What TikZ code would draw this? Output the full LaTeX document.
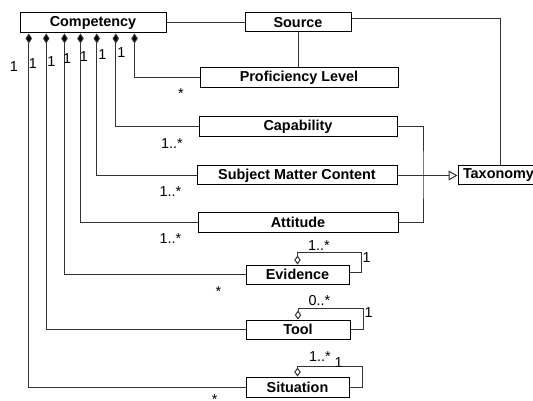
\documentclass[tikz,border=0pt]{standalone}
\usepackage{fontspec}
\setmainfont{Liberation Sans}
\usetikzlibrary{arrows.meta}
\begin{document}
\begin{tikzpicture}[x=1pt,y=-1pt,
  cls/.style={draw=black, line width=1pt, fill=white, inner sep=0pt,
    font=\fontsize{14.4}{16}\selectfont\bfseries},
  wire/.style={draw=black!80, line width=1pt},
  comp/.style={wire, {Diamond[length=10pt,width=6.5pt,fill=black]}-},
  agg/.style={wire, -{Diamond[open,length=9pt,width=6.5pt,fill=white]}},
  gen/.style={wire, -{Triangle[open,length=9pt,width=10pt,fill=white]}},
  mult/.style={inner sep=0pt, font=\fontsize{14.4}{16}\selectfont},
]
\useasboundingbox (0,0) rectangle (533,401);
\clip (0,0) rectangle (533,401);

% classes
\node[cls, minimum width=146pt, minimum height=20pt] (comp) at (93,23) {Competency};
\node[cls, minimum width=106pt, minimum height=19pt] (src)  at (298,22.5) {Source};
\node[cls, minimum width=198pt, minimum height=20pt] (prof) at (299,78) {Proficiency Level};
\node[cls, minimum width=198pt, minimum height=20pt] (cap)  at (298,127) {Capability};
\node[cls, minimum width=200pt, minimum height=19pt] (subj) at (297,175.5) {Subject Matter Content};
\node[cls, minimum width=200pt, minimum height=20pt] (att)  at (298,222) {Attitude};
\node[cls, minimum width=85pt, minimum height=19pt, text width=75pt, align=left] (tax) at (500.5,175.5) {Taxonomy};
\node[cls, minimum width=103pt, minimum height=19pt] (ev)   at (297.5,274.5) {Evidence};
\node[cls, minimum width=104pt, minimum height=19pt] (tool) at (298,329.5) {Tool};
\node[cls, minimum width=103pt, minimum height=20pt] (sit)  at (297.5,387) {Situation};

% composition ends under Competency
\coordinate (k1) at ([xshift=9.3pt]comp.south west);
\coordinate (k2) at ([xshift=26.7pt]comp.south west);
\coordinate (k3) at ([xshift=45pt]comp.south west);
\coordinate (k4) at ([xshift=61pt]comp.south west);
\coordinate (k5) at ([xshift=77.3pt]comp.south west);
\coordinate (k6) at ([xshift=96.3pt]comp.south west);
\coordinate (k7) at ([xshift=115pt]comp.south west);

\draw[comp] (k7) |- (prof.west);
\draw[comp] (k6) |- (cap.west);
\draw[comp] (k5) |- (subj.west);
\draw[comp] (k4) |- (att.west);
\draw[comp] (k3) |- (ev.west);
\draw[comp] (k2) |- (tool.west);
\draw[comp] (k1) |- (sit.west);

% plain associations
\draw[wire] (comp.east) -- (comp.east -| src.west);
\draw[wire] (src.south) -- (src.south |- prof.north);
\draw[wire] ([yshift=4pt]src.east) -| (tax.north);

% generalisation to Taxonomy
\coordinate (gx) at (423,175.5);
\draw[wire] (cap.east) -| (gx) |- (att.east);
\draw[gen] (subj.east) -- (tax.west);

% reflexive aggregations
\draw[agg] ([yshift=1.8pt]ev.east) -- ++(12,0) -- ++(0,-20.4) -| (ev.north);
\draw[agg] (tool.east) -- ++(12.7,0) -- ++(0,-21.2) -| (tool.north);
\draw[agg] (sit.east) -- ++(13,0) -- ++(0,-21) -| (sit.north);

% multiplicities at Competency
\node[mult, anchor=base] (m1) at (14,71.7) {1};
\node[mult, anchor=base] (m2) at (33,68.3) {1};
\node[mult, anchor=base] (m3) at (51.3,66.7) {1};
\node[mult, anchor=base] (m4) at (67.2,63.3) {1};
\node[mult, anchor=base] (m5) at (84,61.7) {1};
\node[mult, anchor=base] (m6) at (102.5,59.3) {1};
\node[mult, anchor=base] (m7) at (121.3,57.3) {1};

% multiplicities at the parts
\node[mult, anchor=base] (s1) at (181,98.5) {*};
\node[mult, anchor=base west] (s2) at (161,148.3) {1..*};
\node[mult, anchor=base west] (s3) at (159.3,196.7) {1..*};
\node[mult, anchor=base west] (s4) at (159.3,243.3) {1..*};
\node[mult, anchor=base] (s5) at (218.3,296.5) {*};
\node[mult, anchor=base] (s6) at (214.7,404) {*};

% multiplicities on the reflexive aggregations
\node[mult, anchor=base west] (e1) at (308,250) {1..*};
\node[mult, anchor=base west] (e2) at (362.4,262.7) {1};
\node[mult, anchor=base west] (t1) at (308.3,305) {0..*};
\node[mult, anchor=base west] (t2) at (364.5,317.3) {1};
\node[mult, anchor=base west] (u1) at (309,361.7) {1..*};
\node[mult, anchor=base west] (u2) at (334.5,367.3) {1};
\end{tikzpicture}
\end{document}
